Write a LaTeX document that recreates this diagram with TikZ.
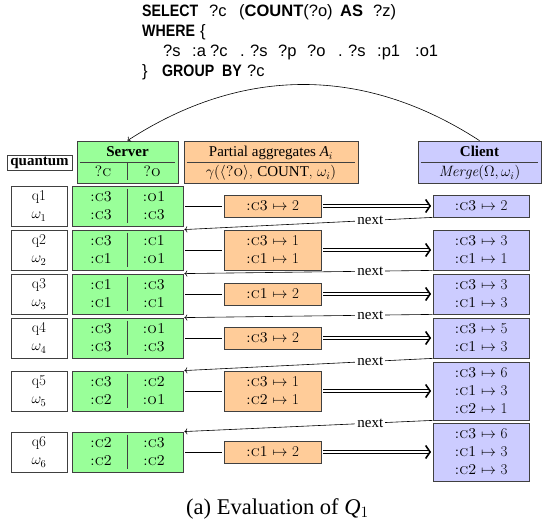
\RequirePackage{fix-cm}
\documentclass[tikz,border=0pt]{standalone}
\usepackage{fontspec}
\newfontfamily\tms{Liberation Serif}
\newfontfamily\hv{Liberation Sans}
\usetikzlibrary{arrows.meta}
\definecolor{sgreen}{RGB}{153,255,153}
\definecolor{aorange}{RGB}{255,204,153}
\definecolor{cblue}{RGB}{204,204,255}
\definecolor{edgec}{gray}{0.25}
\newcommand\cc[2]{\makebox[53pt]{\textsc{#1}}\makebox[53pt]{\textsc{#2}}}
\newcommand\mt[2]{\textsc{#1} $\mapsto$ #2}
\newcommand\kw[1]{\scalebox{0.86}[1]{\textbf{#1}}}
\begin{document}
\begin{tikzpicture}[x=1pt,y=-1pt,
  every node/.style={font=\fontsize{15}{18}\selectfont, inner sep=0pt},
  box/.style={draw=edgec, line width=0.8pt, inner sep=0pt, minimum height=40pt, align=center},
  qbox/.style={box, fill=white, minimum width=56pt},
  sbox/.style={box, fill=sgreen, minimum width=111pt},
  abox/.style={box, fill=aorange, minimum width=97pt},
  cbox/.style={box, fill=cblue, minimum width=96pt},
  head/.style={draw=edgec, line width=0.8pt, minimum height=42pt},
  rule/.style={draw=edgec, line width=0.8pt},
  htext/.style={anchor=base},
  qtext/.style={anchor=base west, font=\hv\fontsize{16.5}{19}\selectfont},
  link/.style={line width=0.7pt, shorten <=2pt, shorten >=2pt},
  dbl/.style={double, double distance=2.2pt, line width=0.7pt, shorten <=2pt, shorten >=3pt},
  dbltip/.style={line width=0.1pt, -{Straight Barb[length=4.5pt, width=13pt, line width=1.6pt]}},
  nextarrow/.style={->, line width=0.6pt, shorten >=1pt},
  lab/.style={fill=white, inner xsep=2pt, inner ysep=0pt, font=\tms\fontsize{15}{18}\selectfont},
]
\useasboundingbox (0,0) rectangle (542,527);

% query
\node[qtext] (l1) at (142,17) {\makebox[67pt][l]{\kw{SELECT}}\makebox[30pt][l]{?c}\makebox[101pt][l]{(\textbf{COUNT}(?o)}\makebox[33pt][l]{\textbf{AS}}?z)};
\node[qtext] (l2) at (142,37) {\makebox[58pt][l]{\kw{WHERE}}\{};
\node[qtext] (l3) at (163,57) {\makebox[29pt][l]{?s}\makebox[18pt][l]{:a}\makebox[30pt][l]{?c}\makebox[10pt][l]{.}\makebox[28pt][l]{?s}\makebox[29pt][l]{?p}\makebox[31pt][l]{?o}\makebox[10pt][l]{.}\makebox[29pt][l]{?s}\makebox[38pt][l]{:p1}:o1};
\node[qtext] (l4) at (142,77) {\makebox[20pt][l]{\}}\makebox[60pt][l]{\kw{GROUP}}\makebox[25pt][l]{\kw{BY}}?c};

% headers
\node[head, minimum width=65pt, minimum height=15pt, fill=white] (qh) at (39.5,162.5) {\tms\bfseries quantum};
\node[head, fill=sgreen, minimum width=101pt] (sh) at (127.5,162) {};
\draw[rule] ([xshift=3pt]sh.west) -- ([xshift=-3pt]sh.east);
\draw[rule] (sh.center) -- ([yshift=3pt]sh.south);
\node[htext] (sht) at (127.5,157) {\tms\bfseries Server};
\node[htext] (shc) at (103,177) {\textsc{?c}};
\node[htext] (sho) at (152,177) {\textsc{?o}};

\node[head, fill=aorange, minimum width=174pt] (ah) at (271,162) {};
\draw[rule] ([xshift=3pt]ah.west) -- ([xshift=-3pt]ah.east);
\node[htext] (aht) at (271,157) {\tms Partial aggregates {\itshape A}$_i$};
\node[htext] (ahb) at (271,177) {$\gamma(\langle$\textsc{?o}$\rangle$, {\tms COUNT}, $\omega_i)$};

\node[head, fill=cblue, minimum width=123pt] (ch) at (479.5,162) {};
\draw[rule] ([xshift=3pt]ch.west) -- ([xshift=-3pt]ch.east);
\node[htext] (cht) at (479.5,157) {\tms\bfseries Client};
\node[htext] (chb) at (479.5,177) {$\mathit{Merge}(\Omega,\omega_i)$};

\draw[->, line width=0.6pt] (ch.north) to[bend right=33] (sh.north);

% row 1
\node[qbox] (q1) at (39,206) {q1\\$\omega_1$};
\node[sbox] (s1) at (127.5,206) {\cc{:c3}{:o1}\\\cc{:c3}{:c3}};
\node[abox, minimum height=22pt] (a1) at (272.5,206) {\mt{:c3}{2}};
\node[cbox, minimum height=22pt] (c1) at (481,206) {\mt{:c3}{2}};
% row 2
\node[qbox] (q2) at (39,250) {q2\\$\omega_2$};
\node[sbox] (s2) at (127.5,250) {\cc{:c3}{:c1}\\\cc{:c1}{:o1}};
\node[abox] (a2) at (272.5,250) {\mt{:c3}{1}\\\mt{:c1}{1}};
\node[cbox] (c2) at (481,250) {\mt{:c3}{3}\\\mt{:c1}{1}};
% row 3
\node[qbox] (q3) at (39,294) {q3\\$\omega_3$};
\node[sbox] (s3) at (127.5,294) {\cc{:c1}{:c3}\\\cc{:c1}{:c1}};
\node[abox, minimum height=22pt] (a3) at (272.5,294) {\mt{:c1}{2}};
\node[cbox] (c3) at (481,294) {\mt{:c3}{3}\\\mt{:c1}{3}};
% row 4
\node[qbox] (q4) at (39,338) {q4\\$\omega_4$};
\node[sbox] (s4) at (127.5,338) {\cc{:c3}{:o1}\\\cc{:c3}{:c3}};
\node[abox, minimum height=22pt] (a4) at (272.5,338) {\mt{:c3}{2}};
\node[cbox] (c4) at (481,338) {\mt{:c3}{5}\\\mt{:c1}{3}};
% row 5
\node[qbox] (q5) at (39,391) {q5\\$\omega_5$};
\node[sbox] (s5) at (127.5,391) {\cc{:c3}{:c2}\\\cc{:c2}{:o1}};
\node[abox] (a5) at (272.5,391) {\mt{:c3}{1}\\\mt{:c2}{1}};
\node[cbox, minimum height=58pt] (c5) at (481,391) {\mt{:c3}{6}\\\mt{:c1}{3}\\\mt{:c2}{1}};
% row 6
\node[qbox] (q6) at (39,452) {q6\\$\omega_6$};
\node[sbox] (s6) at (127.5,452) {\cc{:c2}{:c3}\\\cc{:c2}{:c2}};
\node[abox, minimum height=22pt] (a6) at (272.5,452) {\mt{:c1}{2}};
\node[cbox, minimum height=58pt] (c6) at (481,452) {\mt{:c3}{6}\\\mt{:c1}{3}\\\mt{:c2}{3}};

\foreach \i in {1,...,6}{
  \draw[rule] ([yshift=-3pt]s\i.north) -- ([yshift=3pt]s\i.south);
  \draw[link] (s\i.east) -- (a\i.west);
  \draw[dbl] (a\i.east) -- (c\i.west);
  \draw[dbltip] ([xshift=-4pt]c\i.west) -- ([xshift=-1.5pt]c\i.west);
}
\foreach \i/\j in {1/2,2/3,3/4,4/5,5/6}{
  \draw[nextarrow] (c\i.south west) -- node[lab, pos=.25] (n\i) {next} (s\j.north east);
}

\node[anchor=base, font=\tms\fontsize{22.5}{27}\selectfont] (cap) at (277.5,514) {(a) Evaluation of {\itshape Q}$_1$};
\end{tikzpicture}
\end{document}
